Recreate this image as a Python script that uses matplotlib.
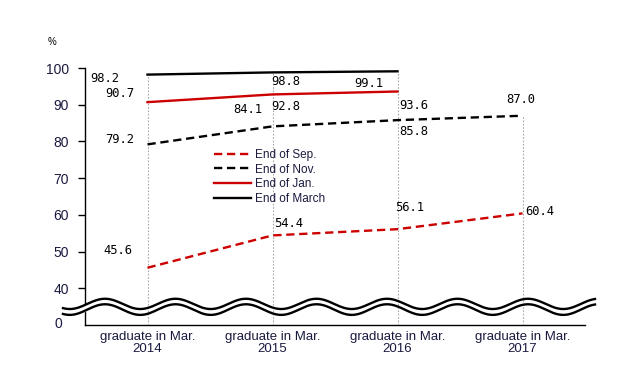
import numpy as np
import matplotlib
matplotlib.use("Agg")
import matplotlib.pyplot as plt

# ---------------- data ----------------
categories = ["graduate in Mar.\n2014", "graduate in Mar.\n2015",
              "graduate in Mar.\n2016", "graduate in Mar.\n2017"]
end_sep = [45.6, 54.4, 56.1, 60.4]
end_nov = [79.2, 84.1, 85.8, 87.0]
end_jan = [90.7, 92.8, 93.6]
end_march = [98.2, 98.8, 99.1]
series_names = ["End of Sep.", "End of Nov.", "End of Jan.", "End of March"]
ytick_values = [40, 50, 60, 70, 80, 90, 100]

# label offsets in pixels (dx, dy) relative to each point
off_sep = [(-30, 17), (16, 11.5), (12.5, 22), (17.5, 1.5)]
off_nov = [(-28, 5), (-24.5, 16.5), (16.5, -11), (-1.5, 16.5)]
off_jan = [(-28, 8.5), (13.5, -12.5), (16.5, -14.5)]
off_mar = [(-42.5, -3.5), (13.5, -9), (-28.5, -12.5)]

DPI = 100
fig = plt.figure(figsize=(6.44, 3.73), dpi=DPI)
ax = fig.add_axes([85 / 644, 1 - 325 / 373, 500 / 644, 257 / 373])
ax.set_xlim(0, 4)
ax.set_ylim(30, 100)

x = np.arange(len(categories)) + 0.5
red = "#cc0000"
txtc = "#1a1a40"

# drop lines
tops = [max(v) for v in zip(end_sep, end_nov, end_jan + [0], end_march + [0])]
ax.vlines(x, 30, tops, colors="#a8a8a8", linewidth=0.8,
          linestyles=(0, (1.5, 1.5)), zorder=2.7)

styles = [
    (end_sep, red, (0, (3.5, 2))),
    (end_nov, "black", (0, (3.5, 2))),
    (end_jan, red, "-"),
    (end_march, "black", "-"),
]
for (vals, col, ls), name in zip(styles, series_names):
    ax.plot(x[:len(vals)], vals, color=col, linestyle=ls, linewidth=1.7,
            label=name, zorder=4)

mono = "DejaVu Sans Mono"
for vals, offs in [(end_sep, off_sep), (end_nov, off_nov),
                   (end_jan, off_jan), (end_march, off_mar)]:
    for xi, v, (dx, dy) in zip(x, vals, offs):
        ax.annotate(f"{v:.1f}", (xi, v), xytext=(dx, dy),
                    textcoords="offset pixels", ha="center", va="center",
                    fontsize=8.7, family=mono, color="black", zorder=6)

# wavy axis break (decoration)
xs = np.linspace(-0.176, 4.08, 600)
phase = np.cos(2 * np.pi * (xs - 0.16) / 0.564)
upper = 35.75 + 1.4 * phase
lower = 34.2 + 1.45 * phase
ax.fill_between(xs, lower, upper, color="white", zorder=2.6, clip_on=False)
ax.plot(xs, upper, color="black", linewidth=1.7, zorder=3, clip_on=False)
ax.plot(xs, lower, color="black", linewidth=1.7, zorder=3, clip_on=False)

# axes styling
for s in ["top", "right"]:
    ax.spines[s].set_visible(False)
ax.spines["left"].set_linewidth(1.0)
ax.spines["bottom"].set_linewidth(1.0)
ax.set_yticks(ytick_values)
ax.set_yticklabels([str(v) for v in ytick_values], fontsize=10,
                   family="Liberation Sans", color=txtc)
ax.tick_params(axis="y", direction="out", length=5, width=1, pad=6.5)
ax.set_xticks(x)
ax.set_xticklabels(categories, fontsize=9.5, family="Liberation Sans",
                   color=txtc, linespacing=1.05)
ax.tick_params(axis="x", length=0, pad=4)

ax.text(58 / 644, 1 - 324 / 373, "0", transform=fig.transFigure,
        ha="center", va="center", fontsize=10, family="Liberation Sans",
        color=txtc)
fig.text(52 / 644, 1 - 42 / 373, "%", ha="center", va="center",
         fontsize=7, family="Liberation Sans", color="black")

leg = ax.legend(loc="upper left", bbox_to_anchor=(214 / 644, 1 - 149 / 373),
                bbox_transform=fig.transFigure, frameon=False,
                prop={"family": "Liberation Sans", "size": 8.5},
                handlelength=3.1, handletextpad=0.35, labelspacing=0.22,
                borderpad=0, borderaxespad=0)
for t in leg.get_texts():
    t.set_color(txtc)

fig.savefig("out.png", dpi=DPI)
